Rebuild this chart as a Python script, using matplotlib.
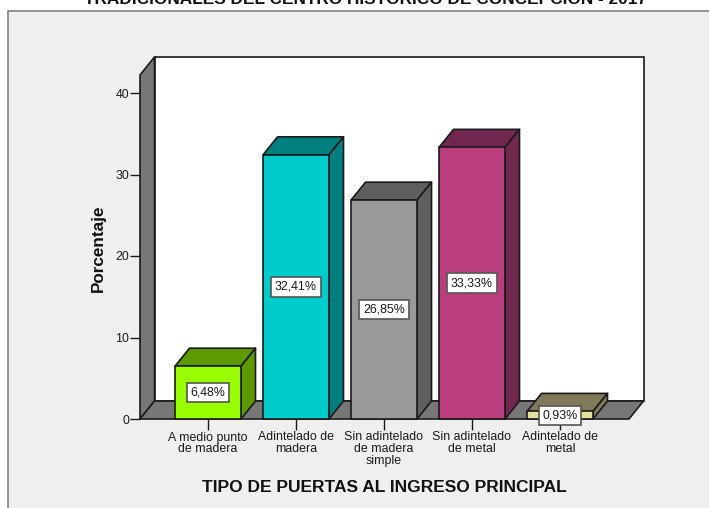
import matplotlib
matplotlib.use('Agg')  # no display
import matplotlib.pyplot as plt
from matplotlib.patches import Polygon, Rectangle

plt.rcParams['font.family'] = ['Liberation Sans', 'DejaVu Sans']

categorias = ['A medio punto\nde madera', 'Adintelado de\nmadera',
              'Sin adintelado\nde madera\nsimple', 'Sin adintelado\nde metal',
              'Adintelado de\nmetal']
porcentajes = [6.48, 32.41, 26.85, 33.33, 0.93]
etiquetas = ['6,48%', '32,41%', '26,85%', '33,33%', '0,93%']
color_frente = ['#99FF00', '#00CCCC', '#999999', '#BB3F7F', '#E5DFA0']
color_lado = ['#5F9900', '#007F7F', '#5F5F5F', '#702850', '#7F7B5A']
ticks_y = [0, 10, 20, 30, 40]

W, H = 709, 508
fig = plt.figure(figsize=(W / 100, H / 100), dpi=100, facecolor='white')

# marco gris de fondo
fig.add_artist(Rectangle((8 / W, -0.01), 1.01, (H - 11) / H + 0.01, transform=fig.transFigure,
                         facecolor='#EFEFEF', edgecolor='#808080', linewidth=1.2, zorder=-1))

# ejes: x=0 en px 208, 88 px por categoria; y=0 en px 419, 8.15 px por unidad
ax = fig.add_axes([140 / W, (H - 419) / H, 489 / W, 344 / H])
ax.set_xlim((140 - 208) / 88, (629 - 208) / 88)
ax.set_ylim(0, 344 / 8.15)
ax.patch.set_visible(False)
for s in ax.spines.values():
    s.set_visible(False)

dx = 14.5 / 88  # profundidad del efecto 3D
dy = 18 / 8.15
ancho = 0.75
x0, x1 = ax.get_xlim()
y1 = ax.get_ylim()[1]
borde = '#1A1A1A'


def poligono(puntos, color, z):
    ax.add_patch(Polygon(puntos, closed=True, facecolor=color, edgecolor=borde,
                         linewidth=1.2, joinstyle='round', clip_on=False, zorder=z))


# paredes y piso
ax.add_patch(Rectangle((x0 + dx, dy), x1 - x0, y1, facecolor='white', edgecolor=borde,
                       linewidth=1.2, clip_on=False, zorder=1))
poligono([(x0, 0), (x0 + dx, dy), (x0 + dx, y1 + dy), (x0, y1)], '#777777', 2)
poligono([(x0, 0), (x1, 0), (x1 + dx, dy), (x0 + dx, dy)], '#777777', 2)

# barras
for i, valor in enumerate(porcentajes):
    a, b = i - ancho / 2, i + ancho / 2
    poligono([(a, valor), (b, valor), (b + dx, valor + dy), (a + dx, valor + dy)], color_lado[i], 3)
    poligono([(b, 0), (b + dx, dy), (b + dx, valor + dy), (b, valor)], color_lado[i], 3)
    poligono([(a, 0), (b, 0), (b, valor), (a, valor)], color_frente[i], 4)
    ax.text(i, valor / 2, etiquetas[i], ha='center', va='center', fontsize=8.9, color='#1A1A1A',
            zorder=6, bbox=dict(boxstyle='square,pad=0.3', facecolor='white',
                                edgecolor='#555555', linewidth=1.2))

ax.set_yticks(ticks_y)
ax.set_xticks(range(len(categorias)))
ax.set_xticklabels(categorias, linespacing=0.97)
ax.tick_params(axis='y', length=7, width=1, labelsize=8.9, pad=1, colors='#1A1A1A')
ax.tick_params(axis='x', length=8, width=1, labelsize=8.9, pad=1, colors='#1A1A1A')

fig.text(98 / W, (H - 248) / H, 'Porcentaje', rotation=90, ha='center', va='center',
         fontsize=12.3, fontweight='bold', color='#111111')
fig.text(384.5 / W, (H - 487) / H, 'TIPO DE PUERTAS AL INGRESO PRINCIPAL', ha='center', va='center',
         fontsize=12.5, fontweight='bold', color='#111111')
# titulo cortado por el borde superior, como en la imagen original
fig.text(366 / W, (H - 4) / H, 'TRADICIONALES DEL CENTRO HISTÓRICO DE CONCEPCIÓN - 2017',
         ha='center', va='baseline', fontsize=12.4, fontweight='bold', color='#111111')

fig.savefig('out.png', dpi=100)
